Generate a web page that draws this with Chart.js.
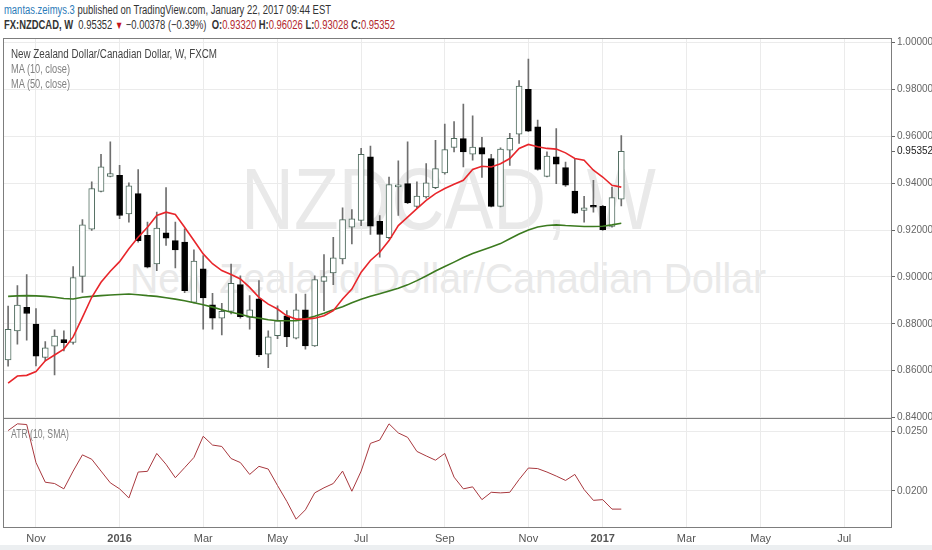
<!DOCTYPE html>
<html>
<head>
<meta charset="utf-8">
<script src="https://cdn.jsdelivr.net/npm/chart.js@4.4.0/dist/chart.umd.min.js"></script>
<style>
  body { margin: 0; width: 932px; height: 550px; overflow: hidden; position: relative; background: #fff;
         font-family: "Liberation Sans", Arial, sans-serif; }
  #hdr1, #hdr2 { position: absolute; left: 4px; white-space: nowrap; font-size: 12.5px; color: #333; }
  #hdr1 { top: 3px; }
  #hdr2 { top: 18px; }
  .user { color: #2b7bb9; }
  .red { color: #b3282e; }
  .tri { color: #c4161c; font-size: 11px; }
  .wm { position: absolute; white-space: nowrap; color: #e9e9e9; z-index: 0; line-height: 1; }
  #wm1 { left: 241px; top: 155px; font-size: 88px; }
  #wm2 { left: 130px; top: 258px; font-size: 42px; }
  .leg { position: absolute; left: 11px; font-size: 12px; color: #808080; white-space: nowrap; z-index: 2; }
  #leg0 { top: 47px; color: #444; }
  #leg1 { top: 62px; }
  #leg2 { top: 77px; }
  #leg3 { top: 427px; }
  #foot { position: absolute; left: 0; top: 545px; width: 932px; height: 5px; background: #eceff1; }
  canvas { position: absolute; left: 0; top: 0; z-index: 1; }
</style>
</head>
<body>
<div id="hdr1"><span class="user">mantas.zeimys.3</span> published on TradingView.com, January 22, 2017 09:44 EST</div>
<div id="hdr2"><b>FX:NZDCAD, W</b>&nbsp; 0.95352 <span class="tri">&#9660;</span> &minus;0.00378 (&minus;0.39%) &nbsp;<b>O:</b><span class="red">0.93320</span> <b>H:</b><span class="red">0.96026</span> <b>L:</b><span class="red">0.93028</span> <b>C:</b><span class="red">0.95352</span></div>
<div class="wm" id="wm1">NZDCAD, W</div>
<div class="wm" id="wm2">New Zealand Dollar/Canadian Dollar</div>
<div class="leg" id="leg0">New Zealand Dollar/Canadian Dollar, W, FXCM</div>
<div class="leg" id="leg1">MA (10, close)</div>
<div class="leg" id="leg2">MA (50, close)</div>
<div class="leg" id="leg3">ATR (10, SMA)</div>
<div id="foot"></div>
<canvas id="myChart" width="932" height="550"></canvas>
<script>
// Weekly bars, week 0 = Oct 12 2015, week 66 = Jan 16 2017
const opens  = [0.8646,0.8770,0.8870,0.8799,0.8656,0.8705,0.8733,0.8720,0.9002,0.9204,
                0.9365,0.9429,0.9433,0.9269,0.9355,0.9177,0.9055,0.9188,0.9155,0.9148,
                0.8891,0.9034,0.8881,0.8824,0.8853,0.8967,0.8827,0.8906,0.8670,0.8749,
                0.8834,0.8739,0.8859,0.8706,0.8981,0.9017,0.9077,0.9212,0.9241,0.9512,
                0.9237,0.9167,0.9384,0.9398,0.9301,0.9341,0.9381,0.9443,0.9552,0.9590,
                0.9523,0.9552,0.9505,0.9301,0.9540,0.9609,0.9800,0.9640,0.9429,0.9512,
                0.9466,0.9366,0.9284,0.9301,0.9301,0.9215,0.93320];
const highs  = [0.8876,0.8963,0.9010,0.8865,0.8724,0.8774,0.8770,0.9044,0.9244,0.9405,
                0.9523,0.9576,0.9476,0.9401,0.9458,0.9234,0.9276,0.9381,0.9234,0.9205,
                0.9115,0.9091,0.8930,0.8887,0.9055,0.9005,0.8920,0.8984,0.8770,0.8877,
                0.8856,0.8927,0.8927,0.9005,0.9095,0.9169,0.9295,0.9287,0.9548,0.9558,
                0.9262,0.9426,0.9495,0.9576,0.9405,0.9483,0.9583,0.9652,0.9662,0.9737,
                0.9687,0.9595,0.9523,0.9550,0.9612,0.9837,0.9929,0.9669,0.9533,0.9633,
                0.9490,0.9501,0.9344,0.9412,0.9305,0.9383,0.96026];
const lows   = [0.8619,0.8713,0.8730,0.8620,0.8642,0.8582,0.8684,0.8713,0.8934,0.9198,
                0.9362,0.9426,0.9248,0.9233,0.9148,0.9038,0.9027,0.9134,0.9038,0.8933,
                0.8889,0.8777,0.8777,0.8753,0.8842,0.8824,0.8777,0.8660,0.8613,0.8736,
                0.8702,0.8735,0.8692,0.8703,0.8856,0.8967,0.9055,0.9141,0.9219,0.9181,
                0.9084,0.9163,0.9262,0.9312,0.9295,0.9336,0.9376,0.9438,0.9533,0.9469,
                0.9498,0.9424,0.9298,0.9298,0.9476,0.9569,0.9619,0.9455,0.9426,0.9398,
                0.9386,0.9270,0.9233,0.9276,0.9198,0.9212,0.93028];
const closes = [0.8776,0.8880,0.8844,0.8662,0.8697,0.8747,0.8719,0.8997,0.9222,0.9377,
                0.9469,0.9441,0.9262,0.9388,0.9155,0.9041,0.9208,0.9165,0.9115,0.8941,
                0.9067,0.8910,0.8824,0.8853,0.8972,0.8830,0.8859,0.8667,0.8744,0.8813,
                0.8744,0.8859,0.8706,0.8988,0.9001,0.9081,0.9244,0.9248,0.9523,0.9216,
                0.9181,0.9394,0.9389,0.9315,0.9345,0.9401,0.9462,0.9543,0.9591,0.9533,
                0.9554,0.9523,0.9301,0.9545,0.9591,0.9814,0.9622,0.9458,0.9515,0.9481,
                0.9391,0.9272,0.9295,0.9297,0.9201,0.9338,0.95352];
const ma10   = [0.8547,0.8577,0.8580,0.8596,0.8642,0.8667,0.8692,0.8744,0.8827,0.8913,
                0.8977,0.9024,0.9065,0.9120,0.9169,0.9212,0.9262,0.9276,0.9266,0.9212,
                0.9155,0.9098,0.9056,0.9027,0.9010,0.8991,0.8955,0.8913,0.8884,0.8863,
                0.8834,0.8820,0.8820,0.8824,0.8834,0.8856,0.8906,0.8948,0.9020,0.9070,
                0.9105,0.9155,0.9219,0.9255,0.9291,0.9326,0.9355,0.9377,0.9395,0.9412,
                0.9458,0.9472,0.9469,0.9483,0.9505,0.9548,0.9565,0.9555,0.9548,0.9545,
                0.9529,0.9505,0.9498,0.9455,0.9426,0.9391,0.9383];
const ma50   = [0.8917,0.8919,0.8920,0.8919,0.8917,0.8913,0.8908,0.8906,0.8913,0.8917,
                0.8920,0.8923,0.8925,0.8927,0.8924,0.8920,0.8917,0.8911,0.8905,0.8898,
                0.8890,0.8881,0.8871,0.8860,0.8849,0.8841,0.8830,0.8824,0.8817,0.8813,
                0.8813,0.8813,0.8821,0.8832,0.8845,0.8860,0.8873,0.8890,0.8905,0.8917,
                0.8928,0.8940,0.8952,0.8966,0.8984,0.9004,0.9025,0.9044,0.9063,0.9083,
                0.9100,0.9114,0.9128,0.9142,0.9163,0.9183,0.9200,0.9213,0.9219,0.9222,
                0.9219,0.9217,0.9215,0.9215,0.9216,0.9222,0.9229];
const atr10  = [0.02509,0.02566,0.02560,0.02239,0.02073,0.02062,0.02017,0.02167,0.02304,0.02267,
                0.02167,0.02068,0.02017,0.01940,0.02159,0.02165,0.02316,0.02224,0.02111,0.02196,
                0.02282,0.02461,0.02387,0.02375,0.02273,0.02239,0.02139,0.02207,0.02184,0.02045,
                0.01911,0.01761,0.01840,0.01983,0.02026,0.02062,0.02167,0.01997,0.02167,0.02401,
                0.02429,0.02566,0.02489,0.02452,0.02333,0.02295,0.02259,0.02316,0.02116,0.02017,
                0.02034,0.01926,0.01988,0.01983,0.01988,0.02096,0.02193,0.02188,0.02159,0.02125,
                0.02088,0.02139,0.02011,0.01920,0.01926,0.01846,0.01846];

// time axis: week index of the first bar of each labelled month
const tickWeeks  = [3, 12, 21, 29, 38, 47, 56, 64, 73, 81, 90];
const tickLabels = ['Nov', '2016', 'Mar', 'May', 'Jul', 'Sep', 'Nov', '2017', 'Mar', 'May', 'Jul'];
const yearWeeks  = [12, 64];

const priceTicks = [0.84, 0.86, 0.88, 0.90, 0.92, 0.94, 0.95352, 0.96, 0.98, 1.00];
const lastClose  = 0.95352;
const atrTicks   = [0.020, 0.025];

const weekIdx = closes.map((c, i) => i);
const isUp = closes.map((c, i) => c >= opens[i]);

// squeeze the html texts to the widths they have in the picture
function fitWidth(id, w) {
    const el = document.getElementById(id);
    el.style.transformOrigin = '0 0';
    el.style.transform = 'scaleX(' + (w / el.getBoundingClientRect().width) + ')';
}
fitWidth('hdr1', 327);
fitWidth('hdr2', 391);
fitWidth('wm1', 415);
fitWidth('wm2', 636);
fitWidth('leg0', 206);
fitWidth('leg1', 59);
fitWidth('leg2', 59);
fitWidth('leg3', 58);

// frame round the panes and the line between them
const paneFrame = {
    id: 'paneFrame',
    afterDraw(chart) {
        const { ctx, chartArea: a } = chart;
        const y2 = chart.scales.y2;
        ctx.save();
        ctx.strokeStyle = '#7d7d7d';
        ctx.lineWidth = 1;
        ctx.strokeRect(a.left + 0.5, a.top + 0.5, a.right - a.left, a.bottom - a.top);
        ctx.beginPath();
        ctx.moveTo(a.left, Math.round(y2.top) + 0.5);
        ctx.lineTo(a.right, Math.round(y2.top) + 0.5);
        ctx.stroke();
        ctx.restore();
    }
};

const ctx = document.getElementById('myChart').getContext('2d');

const chart = new Chart(ctx, {
    type: 'bar',
    data: {
        datasets: [{
            type: 'line',
            label: 'MA (10, close)',
            data: weekIdx.map(i => ({ x: i, y: ma10[i] })),
            borderColor: '#e8262b',
            borderWidth: 1.6,
            pointRadius: 0,
            yAxisID: 'y',
            order: 0
        }, {
            type: 'line',
            label: 'MA (50, close)',
            data: weekIdx.map(i => ({ x: i, y: ma50[i] })),
            borderColor: '#3b7a1f',
            borderWidth: 1.6,
            pointRadius: 0,
            yAxisID: 'y',
            order: 1
        }, {
            label: 'body',
            data: weekIdx.map(i => ({ x: i, y: [opens[i], closes[i]] })),
            backgroundColor: isUp.map(u => u ? '#ffffff' : '#000000'),
            borderColor: isUp.map(u => u ? '#4f6b5e' : '#000000'),
            borderWidth: 1,
            borderSkipped: false,
            minBarLength: 2,
            barThickness: 6,
            grouped: false,
            yAxisID: 'y',
            order: 2
        }, {
            label: 'wick',
            data: weekIdx.map(i => ({ x: i, y: [lows[i], highs[i]] })),
            backgroundColor: '#6f6f6f',
            barThickness: 1,
            grouped: false,
            yAxisID: 'y',
            order: 3
        }, {
            type: 'line',
            label: 'ATR (10, SMA)',
            data: weekIdx.map(i => ({ x: i, y: atr10[i] })),
            borderColor: '#a8383e',
            borderWidth: 1,
            pointRadius: 0,
            yAxisID: 'y2',
            order: 0
        }]
    },
    options: {
        animation: false,
        responsive: false,
        layout: { padding: { left: 3, top: 38, right: 0, bottom: 0 } },
        plugins: { legend: { display: false }, tooltip: { enabled: false } },
        scales: {
            x: {
                type: 'linear',
                min: -0.55,
                max: 95.03,
                offset: false,
                grid: { color: '#ebebeb', offset: false, drawTicks: false },
                border: { display: false },
                afterBuildTicks: s => { s.ticks = tickWeeks.map(v => ({ value: v })); },
                afterFit: s => { s.height = 23; },
                ticks: {
                    autoSkip: false,
                    maxRotation: 0,
                    padding: 5,
                    color: '#555',
                    font: c => ({ size: 11, weight: (c.tick && yearWeeks.includes(c.tick.value)) ? 'bold' : 'normal' }),
                    callback: (v, i) => tickLabels[i]
                }
            },
            y: {
                position: 'right',
                stack: 'panes',
                stackWeight: 378,
                min: 0.84,
                max: 1.0019,
                grid: {
                    color: c => (c.tick && c.tick.value === lastClose) ? 'rgba(0,0,0,0)' : '#ebebeb',
                    tickColor: '#666',
                    tickLength: 4
                },
                border: { display: true, color: '#7d7d7d' },
                afterBuildTicks: s => { s.ticks = priceTicks.map(v => ({ value: v })); },
                afterFit: s => { s.width = 41; },
                ticks: {
                    autoSkip: false,
                    padding: 2,
                    color: c => (c.tick && c.tick.value === lastClose) ? '#222' : '#666',
                    font: { size: 10 },
                    callback: v => v.toFixed(5)
                }
            },
            y2: {
                position: 'right',
                stack: 'panes',
                stackWeight: 109,
                min: 0.01695,
                max: 0.02619,
                grid: { color: '#ebebeb', tickColor: '#666', tickLength: 4 },
                border: { display: true, color: '#7d7d7d' },
                afterBuildTicks: s => { s.ticks = atrTicks.map(v => ({ value: v })); },
                afterFit: s => { s.width = 41; },
                ticks: {
                    autoSkip: false,
                    padding: 2,
                    color: '#666',
                    font: { size: 10 },
                    callback: v => v.toFixed(4)
                }
            }
        }
    },
    plugins: [paneFrame]
});
</script>
</body>
</html>
